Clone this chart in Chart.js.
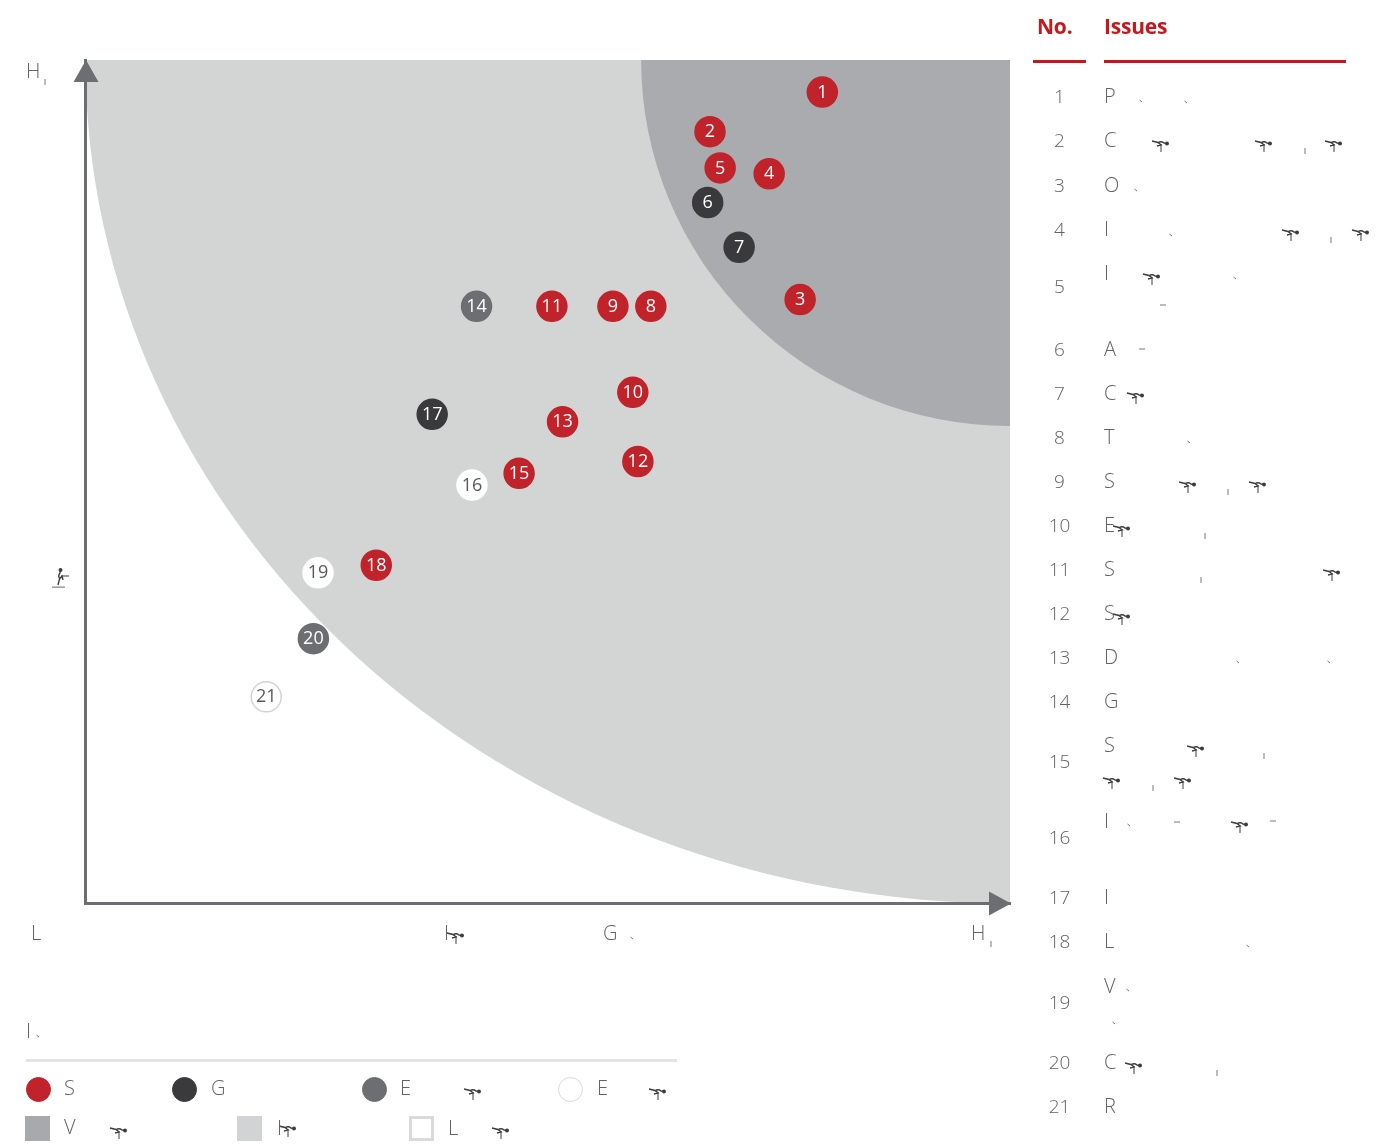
<!DOCTYPE html>
<html><head><meta charset="utf-8"><title>Issues matrix</title>
<script src="https://cdn.jsdelivr.net/npm/chart.js@4"></script>
<style>
html,body{margin:0;padding:0;background:#fff;width:1380px;height:1145px;overflow:hidden}
#c{position:absolute;left:0;top:0}
.t{position:absolute;font-family:"Open Sans",sans-serif;font-weight:300;font-size:19px;line-height:24px;color:#626366;white-space:nowrap;transform:translateY(-50%)}
.n{transform:translate(-50%,-50%)}
.l{font-size:20px}
.h{font-weight:700;font-size:21px;letter-spacing:-0.2px;color:#c8161d}
.r{position:absolute}
svg{position:absolute;left:0;top:0;overflow:visible}
</style></head><body>
<canvas id="c" width="1380" height="1145"></canvas>
<svg id="o" width="1380" height="1145"><defs><g id="sp" fill="none" stroke="#3d3d3f" stroke-width="1.4"><path d="M-9 -4L-3 -2.5L0 0L-4 1M-3 -2Q0 -4.5 3 -2L7 -1.5"/><path d="M0 -1V7" stroke-width="1"/><circle cx="6" cy="-1.5" r="2" fill="#3d3d3f" stroke="none"/></g></defs></svg>
<div id="txt"></div>
<script>
const issueNumbers=[1,2,3,4,5,6,7,8,9,10,11,12,13,14,15,16,17,18,19,20,21];
const xValues=[79.7,67.55,77.3,73.95,68.65,67.3,70.7,61.15,57.05,59.2,50.45,59.75,51.6,42.3,46.9,41.8,37.5,31.45,25.15,24.65,19.55];
const yValues=[96.2,91.5,71.6,86.5,87.2,83.1,77.8,70.8,70.8,60.6,70.8,52.4,57.1,70.8,51.0,49.6,58.0,40.1,39.2,31.4,24.5];
const issueGroups=["S","S","S","S","S","G","G","S","S","S","S","S","S","E1","S","E2","G","S","E2","E1","E3"];
const issueLetters=["P","C","O","I","I","A","C","T","S","E","S","S","D","G","S","I","I","L","V","C","R"];
const letterY=[96,140,185,229,273,349,393,437,481,525,569,613,657,701,745,821,897,941,986,1062,1106];
const numberY=[96,140,185,229,286,349,393,437,481,525,569,613,657,701,761,837,897,941,1002,1062,1106];
const vitalRadius=[39.9,43.4];
const importantRadius=[100,100];
const RED="#c1232b",DARK="#3a3a3c",GRAY="#6d6e71";
const fills={S:RED,G:DARK,E1:GRAY,E2:"#ffffff",E3:"#ffffff"};
const borders={S:RED,G:DARK,E1:GRAY,E2:"#ffffff",E3:"#d1d3d4"};
const textCol={S:"#fff",G:"#fff",E1:"#fff",E2:"#58595b",E3:"#58595b"};

const regions={id:"regions",beforeDraw(ch){
  const {ctx,scales:{x,y}}=ch,a=ch.chartArea;
  const cx=x.getPixelForValue(100),cy=y.getPixelForValue(100);
  const ell=(r,col)=>{
    const rx=cx-x.getPixelForValue(100-r[0]),ry=y.getPixelForValue(100-r[1])-cy;
    ctx.save();ctx.beginPath();ctx.rect(a.left,a.top,a.right-a.left,a.bottom-a.top);ctx.clip();
    ctx.beginPath();ctx.moveTo(cx,cy);ctx.ellipse(cx,cy,rx,ry,0,Math.PI/2,Math.PI);ctx.closePath();ctx.fillStyle=col;ctx.fill();ctx.restore();
  };
  ell(importantRadius,"#d3d5d4");ell(vitalRadius,"#aaabaf");
}};
const arrows={id:"arrows",afterDatasetsDraw(ch){
  const {ctx,scales:{x,y}}=ch;const L=x.getPixelForValue(0),B=y.getPixelForValue(0),R=x.getPixelForValue(100),T=y.getPixelForValue(100);
  ctx.save();ctx.fillStyle=GRAY;
  ctx.beginPath();ctx.moveTo(L+.5,T);ctx.lineTo(L+13,T+22);ctx.lineTo(L-12,T+22);ctx.closePath();ctx.fill();
  ctx.beginPath();ctx.moveTo(R+1,B);ctx.lineTo(R-21,B-12);ctx.lineTo(R-21,B+12);ctx.closePath();ctx.fill();
  ctx.restore();
}};
const labels={id:"labels",afterDatasetsDraw(ch){
  const {ctx}=ch;const m=ch.getDatasetMeta(0);
  ctx.save();ctx.font='400 18px "Open Sans",sans-serif';ctx.textAlign="center";ctx.textBaseline="middle";
  m.data.forEach((p,i)=>{ctx.fillStyle=textCol[issueGroups[i]];ctx.fillText(String(issueNumbers[i]),p.x,p.y+0.5);});
  ctx.restore();
}};
const axisOpt={min:0,max:100,display:true,grid:{display:false,drawTicks:false},ticks:{display:false},border:{display:true,color:GRAY,width:3}};
new Chart(document.getElementById("c"),{type:"scatter",
  data:{datasets:[{label:"Issues",data:xValues.map((v,i)=>({x:v,y:yValues[i]})),
    backgroundColor:issueGroups.map(g=>fills[g]),borderColor:issueGroups.map(g=>borders[g]),borderWidth:1.5,pointRadius:15,pointHoverRadius:15,clip:false}]},
  options:{responsive:false,animation:false,devicePixelRatio:1,
    layout:{padding:{left:85.5,right:370,top:60,bottom:241.5}},
    plugins:{legend:{display:false},tooltip:{enabled:false}},
    scales:{x:axisOpt,y:axisOpt}},
  plugins:[regions,arrows,labels]});

const box=document.getElementById("txt");
function t(s,x,y,cls,extra){const d=document.createElement("div");d.className="t "+(cls||"");d.textContent=s;d.style.left=x+"px";d.style.top=y+"px";if(extra)d.style.cssText+=extra;box.appendChild(d);}
function r(x,y,w,h,css){const d=document.createElement("div");d.className="r";d.style.cssText=`left:${x}px;top:${y}px;width:${w}px;height:${h}px;box-sizing:border-box;${css}`;box.appendChild(d);}
t("No.",1037,26,"h");t("Issues",1104,26,"h");
r(1033,60,53,3,"background:#c8161d");r(1104,60,242,3,"background:#c8161d");
issueNumbers.forEach((n,i)=>{t(String(n),1059.5,numberY[i],"n");t(issueLetters[i],1104,letterY[i],"l");});
// axis captions
t("L",31,933,"l");t("I",444,933,"l");t("G",603,933,"l");t("H",971,933,"l");t("H",26,71,"l");
t("I",58,587,"n","transform:translate(-50%,-50%) rotate(-90deg) scaleY(1)");
// legend
t("I",26,1031,"l");r(26,1059,651,3,"background:#e3e4e5");
[[38,RED,RED,"S"],[184,DARK,DARK,"G"],[374,GRAY,GRAY,"E"],[570,"#fff","#d9dadb","E"]].forEach(([x,f,b,s])=>{
  r(x-12.5,1076.5,25,25,`border-radius:50%;background:${f};border:1.5px solid ${b}`);
});
t("S",64,1088,"l");t("G",211,1088,"l");t("E",400,1088,"l");t("E",597,1088,"l");
r(25,1116,25,25,"background:#a7a9ac");r(237,1116,25,25,"background:#d1d3d4");r(409,1116,25,25,"background:#fff;border:3px solid #d9dadb");
t("V",64,1127,"l");t("I",277,1128,"l");t("L",448,1128,"l");
// stray glyph fragments seen in the reference's text
const sproutMarks=[[1161,145],[1264,145],[1334,145],[1291,234],[1361,234],[1152,278],[1136,397],[1188,486],[1258,486],[1122,530],[1332,574],[1122,618],[1196,750],[1112,782],[1183,782],[1240,826],[1134,1067],[473,1093],[658,1093],[119,1132],[288,1130],[501,1132],[456,937]];
const tickMarks=[[1305,151],[1331,240],[1228,492],[1205,536],[1201,580],[1264,756],[1153,788],[1217,1073],[45,82],[991,944]];
const dashMarks=[[1163,305],[1142,349],[1177,822],[1273,821]];
const dotMarks=[[1141,101],[1186,102],[1136,190],[1171,235],[1235,278],[1189,442],[1238,662],[1329,662],[1129,825],[1128,990],[1114,1023],[632,938],[1248,946],[38,1036]];
const svg=document.getElementById("o"),NS="http://www.w3.org/2000/svg";
function mk(tag,a){const e=document.createElementNS(NS,tag);for(const k in a)e.setAttribute(k,a[k]);svg.appendChild(e);}
sproutMarks.forEach(([x,y])=>{const u=document.createElementNS(NS,"use");u.setAttribute("href","#sp");u.setAttribute("transform",`translate(${x} ${y})`);svg.appendChild(u);});
const u=document.createElementNS(NS,"use");u.setAttribute("href","#sp");u.setAttribute("transform","translate(62 576) rotate(-90)");svg.appendChild(u);
tickMarks.forEach(([x,y])=>mk("line",{x1:x,y1:y-3,x2:x,y2:y+3,stroke:"#77787b","stroke-width":1}));
dashMarks.forEach(([x,y])=>mk("line",{x1:x-3,y1:y,x2:x+3,y2:y,stroke:"#77787b","stroke-width":1}));
dotMarks.forEach(([x,y])=>mk("line",{x1:x-1.5,y1:y-1,x2:x+1,y2:y+1,stroke:"#77787b","stroke-width":1}));
</script></body></html>
